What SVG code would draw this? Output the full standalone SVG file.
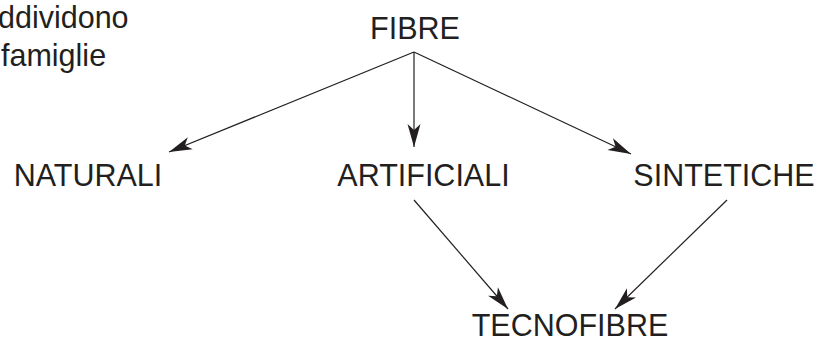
<svg xmlns="http://www.w3.org/2000/svg" width="822" height="340" viewBox="0 0 822 340">
<style>
text{font-family:"Liberation Sans",Arial,Helvetica,sans-serif;font-size:30.5px;fill:#231f20}
.lbl{text-anchor:middle}
.c line{stroke:#231f20;stroke-width:1.2;marker-end:url(#ah)}
</style>
<defs>
<marker id="ah" markerUnits="userSpaceOnUse" markerWidth="30" markerHeight="20" viewBox="-24 -10 26 20" refX="0" refY="0" orient="auto">
<path d="M0,0 L-23,-6.5 L-17,0 L-23,6.5 Z" fill="#231f20"/>
</marker>
</defs>
<rect width="822" height="340" fill="#ffffff"/>
<g id="note">
<text x="-2" y="28">ddividono</text>
<text x="1" y="66">famiglie</text>
</g>
<g id="fibre"><text class="lbl" x="415" y="39">FIBRE</text></g>
<g id="naturali"><text class="lbl" x="88" y="186">NATURALI</text></g>
<g id="artificiali"><text class="lbl" x="423.5" y="186">ARTIFICIALI</text></g>
<g id="sintetiche"><text class="lbl" x="724" y="186">SINTETICHE</text></g>
<g id="tecnofibre"><text class="lbl" x="570" y="336">TECNOFIBRE</text></g>
<g class="c" id="connectors">
<line x1="414" y1="52" x2="169" y2="152"/>
<line x1="414" y1="52" x2="414" y2="147"/>
<line x1="414" y1="52" x2="631" y2="154"/>
<line x1="414" y1="200" x2="508" y2="309"/>
<line x1="727" y1="200" x2="615" y2="309"/>
</g>
</svg>
